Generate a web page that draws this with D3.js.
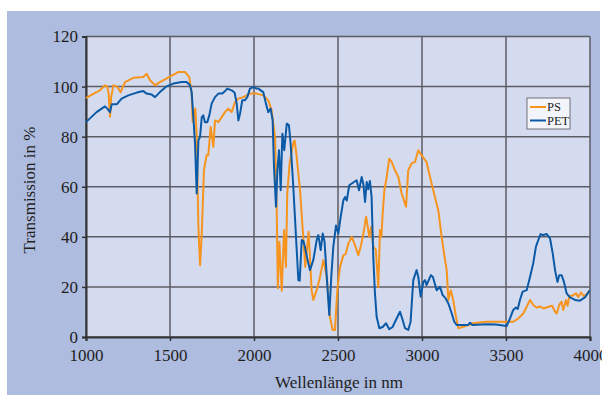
<!DOCTYPE html>
<html>
<head>
<meta charset="utf-8">
<script src="https://cdn.jsdelivr.net/npm/d3@7"></script>
<style>
  body { margin: 0; background: #fff; }
  svg { display: block; }
  text { font-family: "Liberation Serif", "DejaVu Serif", serif; fill: #1e1e1e; }
</style>
</head>
<body>
<svg id="chart" width="602" height="395"></svg>
<script>
// data begin ----------------------------------
const xTicks = [1000, 1500, 2000, 2500, 3000, 3500, 4000];
const yTicks = [0, 20, 40, 60, 80, 100, 120];
const seriesNames = ['PS', 'PET'];

const psWl = [1000, 1040, 1083, 1113, 1127, 1135, 1143, 1150, 1163, 1185, 1206, 1232, 1282, 1341, 1361, 1381, 1411, 1440,
  1500, 1549, 1590, 1615, 1629, 1635, 1651, 1659, 1669, 1679, 1689, 1702, 1718, 1728, 1742, 1758, 1768, 1788, 1808,
  1827, 1847, 1867, 1887, 1907, 1936, 1976, 2016, 2055, 2085, 2105, 2125, 2135, 2142, 2151, 2165, 2179, 2190, 2198,
  2212, 2234, 2242, 2254, 2274, 2293, 2305, 2325, 2343, 2353, 2373, 2393, 2413, 2433, 2452, 2468, 2482, 2496, 2512,
  2532, 2545, 2562, 2582, 2601, 2621, 2635, 2651, 2667, 2675, 2686, 2698, 2710, 2725, 2740, 2750, 2758, 2766, 2776,
  2790, 2805, 2819, 2839, 2859, 2879, 2905, 2918, 2938, 2958, 2978, 2997, 3027, 3057, 3077, 3097, 3117, 3131, 3147,
  3157, 3171, 3186, 3202, 3216, 3246, 3306, 3385, 3504, 3543, 3573, 3603, 3623, 3643, 3662, 3682, 3702, 3722, 3752,
  3775, 3792, 3802, 3817, 3831, 3841, 3857, 3867, 3877, 3901, 3917, 3930, 3946, 3964, 3984, 4000];
const psT = [95.4, 97, 98.5, 100.5, 100, 97, 88, 96, 100.5, 100, 97.8, 101.8, 103.5, 103.8, 105.1, 102.5, 100.5, 101.8,
  104, 105.8, 105.8, 103.8, 97, 86, 91.2, 79.9, 44, 28.7, 41.3, 66.6, 72.6, 72.6, 83.9, 75.9, 86.5, 85.8, 87.8,
  89.8, 91.2, 89.8, 93.8, 95.2, 95.8, 97.2, 97.2, 96.5, 94.5, 90.5, 79.9, 52, 19.5, 38, 18.5, 42.7, 28, 57.3,
  69.3, 77.5, 78.5, 71.9, 58.6, 40, 28, 42, 18.7, 14.8, 18.7, 24, 30.7, 24, 8.1, 2.8, 2.8, 18.7, 28,
  32.7, 33, 37.4, 40, 36.7, 32.7, 36, 41.3, 48, 45, 40, 44, 36, 35, 20, 42.7, 40, 49.3, 58.6,
  63.9, 71.2, 69.9, 66.6, 63.9, 57.3, 52, 66.6, 69.3, 69.9, 74.6, 72.6, 69.9, 61.3, 55.9, 50.6, 40, 33.4, 26.7,
  14.8, 18.7, 14.8, 8.1, 3.5, 4.1, 5.5, 6.1, 6.1, 6.1, 7.4, 9.4, 12.1, 14.8, 12.8, 11.8, 12.2, 11.4, 12.1,
  12.5, 10.1, 9.4, 12.8, 14.1, 10.8, 14.8, 12.5, 16.3, 16.7, 17.4, 16, 17.7, 16.3, 17.4, 18.7];

const petWl = [1000, 1063, 1113, 1127, 1143, 1153, 1183, 1212, 1252, 1302, 1341, 1361, 1391, 1411, 1440, 1480, 1520,
  1570, 1599, 1619, 1629, 1639, 1649, 1659, 1669, 1679, 1689, 1698, 1708, 1722, 1734, 1748, 1768, 1788, 1810, 1825,
  1841, 1867, 1885, 1897, 1907, 1917, 1930, 1945, 1960, 1976, 1996, 2016, 2026, 2055, 2071, 2085, 2099, 2111, 2119,
  2131, 2139, 2149, 2159, 2169, 2180, 2195, 2208, 2218, 2234, 2250, 2264, 2272, 2284, 2293, 2303, 2318, 2333, 2353,
  2373, 2383, 2397, 2409, 2420, 2437, 2448, 2460, 2472, 2488, 2502, 2516, 2532, 2542, 2552, 2567, 2582, 2595, 2611,
  2625, 2641, 2651, 2661, 2671, 2680, 2690, 2700, 2710, 2720, 2730, 2746, 2766, 2786, 2805, 2825, 2849, 2869, 2884,
  2899, 2918, 2932, 2948, 2968, 2978, 2992, 3008, 3018, 3027, 3053, 3065, 3087, 3107, 3123, 3140, 3157, 3177, 3192,
  3206, 3246, 3275, 3286, 3300, 3385, 3440, 3504, 3524, 3543, 3559, 3570, 3583, 3599, 3623, 3643, 3662, 3678, 3692,
  3706, 3722, 3742, 3762, 3778, 3792, 3806, 3817, 3831, 3845, 3861, 3881, 3911, 3940, 3970, 4000];
const petT = [85.8, 89.8, 92.1, 91.2, 89.8, 92.9, 92.9, 95.2, 96.5, 97.6, 98.2, 97.2, 96.8, 95.8, 97.8, 100.1, 101.2,
  101.8, 101.8, 100.5, 97.8, 87.8, 77.2, 57.3, 78.5, 79.9, 87.8, 88.5, 85.8, 85.8, 88.5, 93.2, 95.8, 97.2, 97.2, 98,
  99.2, 98.5, 97.5, 93.2, 86.5, 89.2, 94.5, 94.5, 95.8, 99.2, 99.8, 99.2, 99.2, 97.8, 93.2, 89.8, 91.2, 86.5, 67.9,
  52, 66.6, 74.6, 58.6, 81.2, 74.6, 85.2, 84.5, 77.2, 59.9, 40, 22.7, 22.5, 38.7, 38.5, 36, 31, 26.7, 30.7,
  38.7, 40.7, 34.7, 41.3, 38, 20, 8.8, 24, 36, 44.5, 41.3, 48, 54.6, 55.9, 54.5, 60.6, 61.3, 61.9, 62.6,
  58.6, 63.9, 61, 53.9, 61.9, 59, 62.3, 55.9, 32, 17.4, 8.1, 3.5, 4, 5.5, 3.1, 4, 7.4, 10.1, 7,
  3.5, 2.8, 6, 22.7, 26.7, 24, 16.1, 22, 22.7, 20.7, 24.7, 24, 18.7, 20, 16.7, 15.5, 13.4, 9.4, 6.1,
  4.8, 4.8, 4.8, 5.7, 4.8, 5.1, 5, 4.4, 7.4, 10.8, 11.8, 11.2, 14.8, 18.1, 18.7, 24, 29.4, 36, 38.7,
  41.1, 40.7, 41.1, 39.4, 33.4, 26.7, 22, 24.7, 24.7, 22, 17.4, 15.8, 14.8, 14.5, 15.8, 18.7];
// data end ----------------------------------

const colors = { PS: '#f7941d', PET: '#0a5aa8' };
const plot = { left: 86, right: 590, top: 36.5, bottom: 337 };

const svg = d3.select('#chart');

// outer panel
svg.append('rect').attr('x', 7).attr('y', 11).attr('width', 593).attr('height', 384).attr('fill', '#aebcdf');
svg.append('rect')
  .attr('x', plot.left).attr('y', plot.top)
  .attr('width', plot.right - plot.left).attr('height', plot.bottom - plot.top)
  .attr('fill', '#d5dbee');

const x = d3.scaleLinear().domain([1000, 4000]).range([plot.left, plot.right]);
const y = d3.scaleLinear().domain([0, 120]).range([plot.bottom, plot.top]);

// grid
svg.append('g').selectAll('line').data(xTicks).join('line')
  .attr('x1', d => x(d)).attr('x2', d => x(d))
  .attr('y1', plot.top).attr('y2', plot.bottom)
  .attr('stroke', '#5c5c66').attr('stroke-width', 1.5);
svg.append('g').selectAll('line').data(yTicks).join('line')
  .attr('x1', plot.left).attr('x2', plot.right)
  .attr('y1', d => y(d)).attr('y2', d => y(d))
  .attr('stroke', '#5c5c66').attr('stroke-width', 1.5);

// axes
const xAxis = d3.axisBottom(x).tickValues(xTicks).tickFormat(d3.format('d')).tickSize(4).tickPadding(8);
const yAxis = d3.axisLeft(y).tickValues(yTicks).tickSize(4).tickPadding(4);
const gx = svg.append('g').attr('transform', 'translate(0,' + plot.bottom + ')').call(xAxis);
const gy = svg.append('g').attr('transform', 'translate(' + plot.left + ',0)').call(yAxis);
[gx, gy].forEach(g => {
  g.select('.domain').attr('stroke', '#333').attr('stroke-width', 2);
  g.selectAll('.tick line').attr('stroke', '#333').attr('stroke-width', 1.5);
  g.selectAll('.tick text').attr('font-size', 17).attr('fill', '#1e1e1e')
    .attr('font-family', '"Liberation Serif", serif');
});

// series
const line = d3.line().x(d => x(d[0])).y(d => y(d[1]));
const series = [
  { name: 'PS', pts: d3.zip(psWl, psT) },
  { name: 'PET', pts: d3.zip(petWl, petT) }
];
svg.append('g').selectAll('path').data(series).join('path')
  .attr('d', d => line(d.pts))
  .attr('fill', 'none')
  .attr('stroke', d => colors[d.name])
  .attr('stroke-width', 2)
  .attr('stroke-linejoin', 'round');

// titles
svg.append('text').attr('x', 339).attr('y', 388).attr('text-anchor', 'middle')
  .attr('font-size', 17).text('Wellenlänge in nm');
svg.append('text').attr('transform', 'translate(35,190) rotate(-90)').attr('text-anchor', 'middle')
  .attr('font-size', 17).text('Transmission in %');

// legend
const lg = svg.append('g').attr('transform', 'translate(527,98)');
lg.append('rect').attr('width', 43).attr('height', 31).attr('fill', '#f4f5fa')
  .attr('stroke', '#6e6e78').attr('stroke-width', 1);
seriesNames.forEach((n, i) => {
  lg.append('line').attr('x1', 3).attr('x2', 19).attr('y1', 9 + i * 13.5).attr('y2', 9 + i * 13.5)
    .attr('stroke', colors[n]).attr('stroke-width', 2);
  lg.append('text').attr('x', 20).attr('y', 13 + i * 13.5).attr('font-size', 12.5).text(n);
});
</script>
</body>
</html>
